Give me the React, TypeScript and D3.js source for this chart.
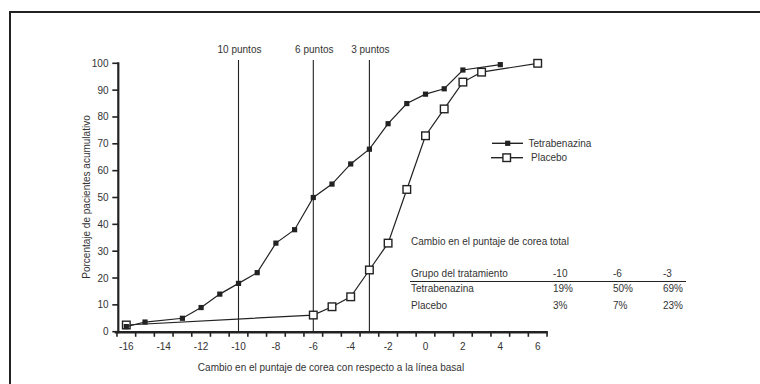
import React from "react";
import * as d3 from "d3";

const tetraX = [-16, -15, -13, -12, -11, -10, -9, -8, -7, -6, -5, -4, -3, -2, -1, 0, 1, 2, 4];
const tetraY = [1.9, 3.6, 5, 9, 14, 18, 22, 33, 38, 50, 55, 62.5, 68, 77.5, 85, 88.5, 90.5, 97.5, 99.5];
const placeboX = [-16, -6, -5, -4, -3, -2, -1, 0, 1, 2, 3, 6];
const placeboY = [2.5, 6.2, 9.3, 13, 23, 33, 53, 73, 83, 93, 96.7, 100];

const xTickLabels = [-16, -14, -12, -10, -8, -6, -4, -2, 0, 2, 4, 6];
const yTickLabels = [0, 10, 20, 30, 40, 50, 60, 70, 80, 90, 100];
const refLines = [
  { x: -10, label: "10 puntos" },
  { x: -6, label: "6 puntos" },
  { x: -3, label: "3 puntos" },
];
const tableTitle = "Cambio en el puntaje de corea total";
const tableHeader = ["Grupo del tratamiento", "-10", "-6", "-3"];
const tableRows = [
  ["Tetrabenazina", "19%", "50%", "69%"],
  ["Placebo", "3%", "7%", "23%"],
];
const seriesNames = ["Tetrabenazina", "Placebo"];
const yTitle = "Porcentaje de pacientes acumulativo";
const xTitle = "Cambio en el puntaje de corea con respecto a la línea basal";

export default function App() {
  const W = 760;
  const H = 384;
  const x = d3.scaleLinear().domain([-16, 4]).range([126.3, 500.3]);
  const y = d3.scaleLinear().domain([0, 100]).range([331.7, 63.3]);
  const ink = "#222";
  const txt = "#333";
  const font = "'Liberation Sans', Arial, Helvetica, sans-serif";

  const line = d3
    .line<[number, number]>()
    .x((d) => x(d[0]))
    .y((d) => y(d[1]));
  const tetra: [number, number][] = tetraX.map((v, i) => [v, tetraY[i]]);
  const placebo: [number, number][] = placeboX.map((v, i) => [v, placeboY[i]]);

  const halfTicks = d3.range(-16.5, 7, 1);
  const axisY = 332.3;
  const yAxisX = 118.3;

  const colX = [411, 553, 613, 663];

  return (
    <svg
      width={W}
      height={H}
      style={{ position: "absolute", left: 0, top: 0, background: "#fff" }}
      fontFamily={font}
    >
      <rect x={0} y={0} width={W} height={H} fill="#fff" />
      {/* frame */}
      <line x1={10} y1={12} x2={W} y2={12} stroke={ink} strokeWidth={2} />
      <line x1={10} y1={11} x2={10} y2={H} stroke={ink} strokeWidth={2} />

      {/* reference lines */}
      {refLines.map((r) => (
        <g key={r.label}>
          <line x1={x(r.x)} x2={x(r.x)} y1={60} y2={axisY} stroke={ink} strokeWidth={1.1} />
          <text x={x(r.x) + 1} y={52.5} fontSize={10} fill={txt} textAnchor="middle">
            {r.label}
          </text>
        </g>
      ))}

      {/* y axis */}
      <line x1={yAxisX} x2={yAxisX} y1={y(100) - 1} y2={axisY + 1} stroke={ink} strokeWidth={2.2} />
      {yTickLabels.map((v) => (
        <g key={v}>
          <line x1={yAxisX - 6} x2={yAxisX} y1={y(v)} y2={y(v)} stroke={ink} strokeWidth={1.6} />
          <text x={108.5} y={y(v) + 3.5} fontSize={10} fill={txt} textAnchor="end">
            {v}
          </text>
        </g>
      ))}

      {/* x axis */}
      <line x1={x(-16.62)} x2={x(6.5) + 0.8} y1={axisY} y2={axisY} stroke={ink} strokeWidth={2.4} />
      {halfTicks.map((v) => (
        <line key={v} x1={x(v)} x2={x(v)} y1={axisY} y2={axisY + 4.5} stroke={ink} strokeWidth={1.6} />
      ))}
      {xTickLabels.map((v) => (
        <text key={v} x={x(v)} y={350} fontSize={10} fill={txt} textAnchor="middle">
          {v}
        </text>
      ))}

      {/* axis titles */}
      <text
        transform={`translate(90,197) rotate(-90)`}
        fontSize={10}
        fill={txt}
        textAnchor="middle"
      >
        {yTitle}
      </text>
      <text x={331} y={371} fontSize={10} fill={txt} textAnchor="middle">
        {xTitle}
      </text>

      {/* placebo series */}
      <path d={line(placebo) || ""} fill="none" stroke={ink} strokeWidth={1.2} />
      {placebo.map((d, i) => (
        <rect
          key={"p" + i}
          x={x(d[0]) - 3.8}
          y={y(d[1]) - 3.8}
          width={7.6}
          height={7.6}
          fill="#fff"
          stroke={ink}
          strokeWidth={1.4}
        />
      ))}

      {/* tetrabenazina series */}
      <path d={line(tetra) || ""} fill="none" stroke={ink} strokeWidth={1.2} />
      {tetra.map((d, i) => (
        <rect key={"t" + i} x={x(d[0]) - 2.6} y={y(d[1]) - 2.6} width={5.2} height={5.2} fill={ink} />
      ))}

      {/* legend */}
      <line x1={492} x2={523} y1={143.3} y2={143.3} stroke={ink} strokeWidth={1.4} />
      <rect x={507.7 - 2.6} y={143.3 - 2.6} width={5.2} height={5.2} fill={ink} />
      <text x={528.5} y={146.8} fontSize={10} fill={txt}>
        {seriesNames[0]}
      </text>
      <line x1={491} x2={523} y1={157.7} y2={157.7} stroke={ink} strokeWidth={1.4} />
      <rect
        x={506.7 - 3.8}
        y={157.7 - 3.8}
        width={7.6}
        height={7.6}
        fill="#fff"
        stroke={ink}
        strokeWidth={1.4}
      />
      <text x={531} y={161.2} fontSize={10} fill={txt}>
        {seriesNames[1]}
      </text>

      {/* table */}
      <text x={411} y={244.8} fontSize={10} fill={txt}>
        {tableTitle}
      </text>
      {tableHeader.map((h, i) => (
        <text key={"h" + i} x={colX[i]} y={276.8} fontSize={10} fill={txt}>
          {h}
        </text>
      ))}
      <line x1={410} x2={686} y1={281.5} y2={281.5} stroke={ink} strokeWidth={1.2} />
      {tableRows.map((row, r) =>
        row.map((c, i) => (
          <text key={"r" + r + i} x={colX[i]} y={292 + r * 16.5} fontSize={10} fill={txt}>
            {c}
          </text>
        ))
      )}
    </svg>
  );
}
